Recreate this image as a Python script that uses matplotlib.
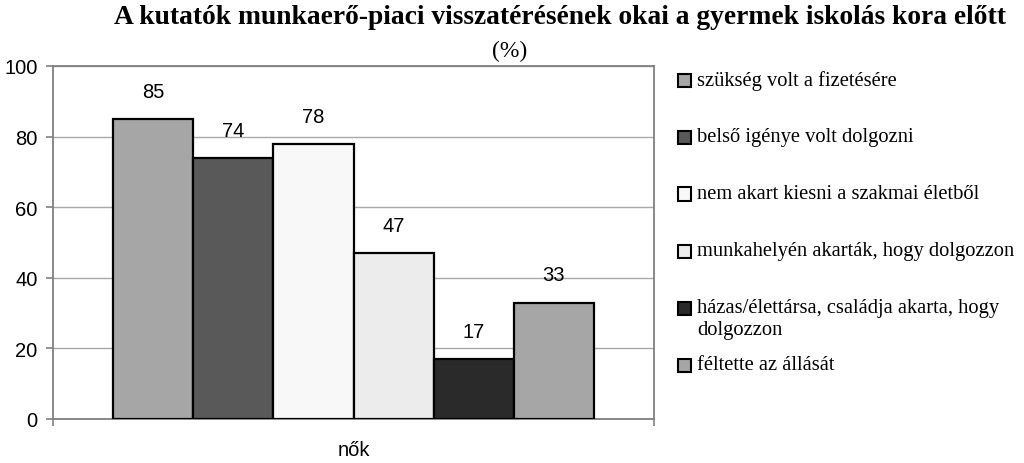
import matplotlib
matplotlib.use("Agg")
import matplotlib.pyplot as plt
from matplotlib.patches import Rectangle
import numpy as np

category = ["nők"]
series_labels = [
    "szükség volt a fizetésére",
    "belső igénye volt dolgozni",
    "nem akart kiesni a szakmai életből",
    "munkahelyén akarták, hogy dolgozzon",
    "házas/élettársa, családja akarta, hogy\ndolgozzon",
    "féltette az állását",
]
values = [85, 74, 78, 47, 17, 33]
colors = ["#a6a6a6", "#595959", "#f8f8f8", "#ececec", "#2a2a2a", "#a6a6a6"]
yticks = [0, 20, 40, 60, 80, 100]
title = "A kutatók munkaerő-piaci visszatérésének okai a gyermek iskolás kora előtt"
subtitle = "(%)"

fig = plt.figure(figsize=(10.24, 4.64), dpi=100)
ax = fig.add_axes([53/1024, 1-420/464, (654-53)/1024, (420-67)/464])

n = len(values)
group_w = 0.8
bw = group_w / n
for i, (v, c) in enumerate(zip(values, colors)):
    x = -group_w/2 + bw*(i+0.5)
    ax.bar(x, v, width=bw, color=c, edgecolor="black", linewidth=1.6, zorder=3)
    ax.annotate(str(v), (x, v), xytext=(0, 13), textcoords="offset points",
                ha="center", va="bottom", fontsize=14.5, family="Liberation Sans")

ax.set_xlim(-0.5, 0.5)
ax.set_ylim(0, 100)
ax.set_yticks(yticks)
ax.set_yticklabels([str(t) for t in yticks], fontsize=14.5, family="Liberation Sans")
ax.set_xticks([0])
ax.set_xticklabels(category, fontsize=14.5, family="Liberation Sans")
ax.set_xticks([-0.5, 0.5], minor=True)
ax.tick_params(axis="x", which="major", length=0, pad=15)
ax.tick_params(axis="x", which="minor", length=5, color="#808080", width=1.2)
ax.tick_params(axis="y", length=5, color="#808080", width=1.2, pad=6)
for s in ax.spines.values():
    s.set_color("#808080")
    s.set_linewidth(1.3)
ax.yaxis.grid(True, color="#a8a8a8", linewidth=1.0, zorder=0)
ax.set_axisbelow(True)

fig.text(560/1024, 1-17/464, title, ha="center", va="center",
         fontsize=19.8, fontweight="bold", family="Liberation Serif")
fig.text(510/1024, 1-51/464, subtitle, ha="center", va="center",
         fontsize=17, family="Liberation Serif")

# legend
sq = 13
y0 = 81
step = 57
ycur = y0
for lab, c in zip(series_labels, colors):
    yc = ycur
    fig.patches.append(Rectangle((678/1024, 1-(yc+sq/2)/464), sq/1024, sq/464,
                                 transform=fig.transFigure, facecolor=c,
                                 edgecolor="black", linewidth=1.5))
    fig.text(697/1024, 1-(yc-10)/464, lab, ha="left", va="top",
             fontsize=14.8, family="Liberation Serif", linespacing=1.2,
             transform=fig.transFigure)
    ycur += step

fig.savefig("out.png", dpi=100)
